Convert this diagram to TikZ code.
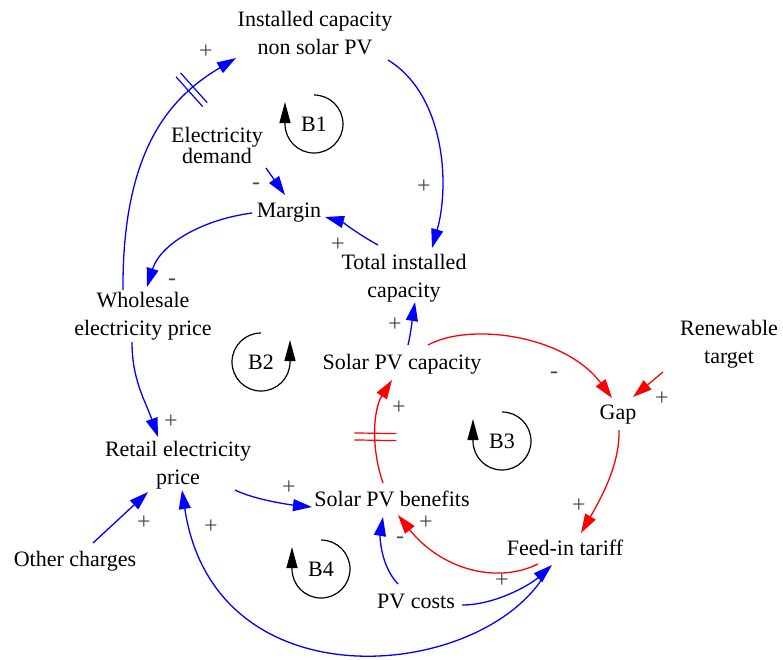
\documentclass[tikz,border=0pt]{standalone}
\usepackage{fontspec}
\setmainfont{Liberation Serif}
\usetikzlibrary{arrows.meta,decorations.markings}
\begin{document}
\begin{tikzpicture}[x=1pt,y=-1pt,
  var/.style={align=center,inner sep=0pt,font=\fontsize{22}{27.5}\selectfont},
  sgn/.style={inner sep=0pt,text=black!72,font=\fontsize{24}{24}\selectfont},
  lp/.style={inner sep=0pt,font=\fontsize{22}{22}\selectfont},
  bl/.style={draw=blue,line width=1.3pt,-{Triangle[length=19pt,width=12pt]}},
  rd/.style={draw=red,line width=1.3pt,-{Triangle[length=19pt,width=12pt]}},
  loopar/.style={draw=black,line width=1.2pt,-{Triangle[length=21pt,width=11pt]}},
  delayblue/.style={postaction={decorate},decoration={markings,mark=at position #1 with {\draw[-,blue,line width=1.2pt] (-3,-20)--(-3,20) (3,-20)--(3,20);}}},
  delayred/.style={postaction={decorate},decoration={markings,mark=at position #1 with {\draw[-,red,line width=1.2pt] (-3.5,-21)--(-3.5,21) (3.5,-21)--(3.5,21);}}},
]
\useasboundingbox (0,0) rectangle (783,659);

% variables
\node[var] (icn) at (315,33) {Installed capacity\\non solar PV};
\node[var,font=\fontsize{22}{19.5}\selectfont] (ed) at (217,145) {Electricity\\demand};
\node[var] (mar) at (289,213) {Margin};
\node[var] (tic) at (404,278) {Total installed\\capacity};
\node[var] (wsp) at (143,316) {Wholesale\\electricity price};
\node[var] (spc) at (402,364) {Solar PV capacity};
\node[var] (rt) at (729,344) {Renewable\\target};
\node[var] (gap) at (618,415) {Gap};
\node[var] (rep) at (178,465) {Retail electricity\\price};
\node[var] (spb) at (392,499) {Solar PV benefits};
\node[var] (oc) at (75,561) {Other charges};
\node[var] (fit) at (565,548) {Feed-in tariff};
\node[var] (pvc) at (416,601) {PV costs};

% connectors
\draw[bl,delayblue=0.8] ([shift={(-20,-26)}]wsp.center) .. controls +(-1,-150) and +(-58,35) .. ([shift={(-79,25)}]icn.center);
\draw[bl] ([shift={(73,27)}]icn.center) .. controls +(57,35) and +(18,-63) .. ([shift={(28,-30)}]tic.center);
\draw[bl] ([shift={(49,23)}]ed.center) -- ([shift={(-4,-18)}]mar.center);
\draw[bl] ([shift={(-26,-33)}]tic.center) .. controls +(-15,-8) and +(15,4) .. ([shift={(36,4)}]mar.center);
\draw[bl] ([shift={(-37,0)}]mar.center) .. controls +(-52,7) and +(13,-42) .. ([shift={(4,-29)}]wsp.center);
\draw[bl] ([shift={(-11,26)}]wsp.center) .. controls +(0,38) and +(-13,-37) .. ([shift={(-20,-28)}]rep.center);
\draw[bl] ([shift={(6,-19)}]spc.center) .. controls +(3,-12) and +(-2,12) .. ([shift={(11,24)}]tic.center);
\draw[rd] ([shift={(26,-19)}]spc.center) .. controls +(42,-23) and +(-47,-63) .. ([shift={(-6,-17)}]gap.center);
\draw[rd] ([shift={(-66,28)}]rt.center) -- ([shift={(15,-18)}]gap.center);
\draw[rd] ([shift={(1,15)}]gap.center) .. controls +(1,35) and +(19,-33) .. ([shift={(16,-15)}]fit.center);
\draw[rd] ([shift={(-27,16)}]fit.center) .. controls +(-43,21) and +(42,53) .. ([shift={(6,16)}]spb.center);
\draw[rd,delayred=0.44] ([shift={(-9,-16)}]spb.center) .. controls +(-13,-38) and +(-18,28) .. ([shift={(-10,16)}]spc.center);
\draw[bl] ([shift={(57,25)}]rep.center) .. controls +(20,10) and +(-20,-2) .. ([shift={(-80,8)}]spb.center);
\draw[bl] ([shift={(18,-18)}]oc.center) -- ([shift={(-30,27)}]rep.center);
\draw[bl] ([shift={(-18,-17)}]pvc.center) .. controls +(-18,-19) and +(-3,18) .. ([shift={(-9,18)}]spb.center);
\draw[bl] ([shift={(46,4)}]pvc.center) .. controls +(33,0) and +(-22,20) .. ([shift={(-13,17)}]fit.center);
\draw[bl] ([shift={(-17,21)}]fit.center) .. controls +(-58,111) and +(33,220) .. ([shift={(4,25)}]rep.center);

% polarities
\node[sgn] (s1) at (206,52) {+};
\node[sgn] (s2) at (424,187) {+};
\node[sgn] (s3) at (256,186) {-};
\node[sgn] (s4) at (338,245) {+};
\node[sgn] (s5) at (172,282) {-};
\node[sgn] (s6) at (171,422) {+};
\node[sgn] (s7) at (395,325) {+};
\node[sgn] (s8) at (554,375) {-};
\node[sgn] (s9) at (662,399) {+};
\node[sgn] (s10) at (579,506) {+};
\node[sgn] (s11) at (426,523) {+};
\node[sgn] (s12) at (399,408) {+};
\node[sgn] (s13) at (289,488) {+};
\node[sgn] (s14) at (144,523) {+};
\node[sgn] (s15) at (400,540) {-};
\node[sgn] (s16) at (502,581) {+};
\node[sgn] (s17) at (211,527) {+};

% loops
\node[lp] (b1) at (314,124) {B1};
\draw[loopar] ([shift={(0,-29)}]b1.center) arc[start angle=-90,end angle=180,radius=29] -- ++(0,-22);
\node[lp] (b2) at (261,362) {B2};
\draw[loopar] ([shift={(0,-29)}]b2.center) arc[start angle=-90,end angle=-360,radius=29] -- ++(0,-22);
\node[lp] (b3) at (502,441) {B3};
\draw[loopar] ([shift={(0,-29)}]b3.center) arc[start angle=-90,end angle=180,radius=29] -- ++(0,-22);
\node[lp] (b4) at (321,569) {B4};
\draw[loopar] ([shift={(0,-29)}]b4.center) arc[start angle=-90,end angle=180,radius=29] -- ++(0,-22);
\end{tikzpicture}
\end{document}
